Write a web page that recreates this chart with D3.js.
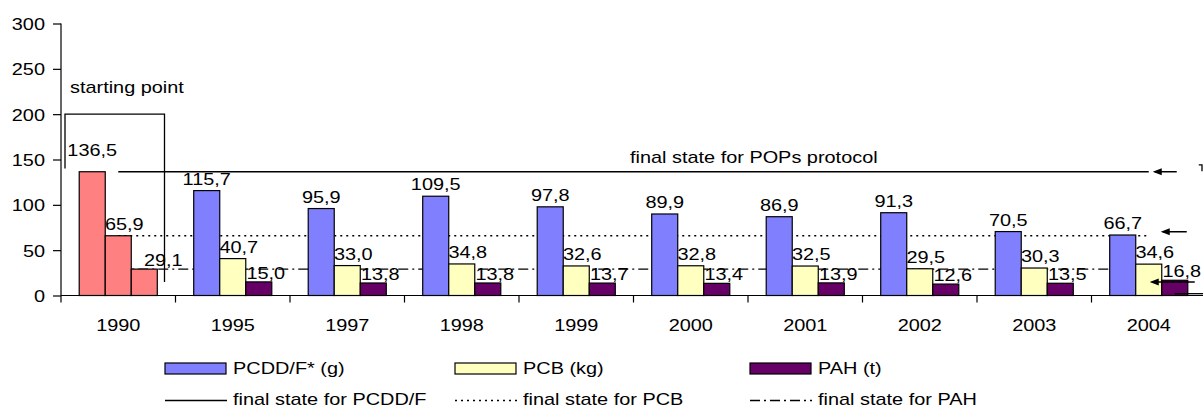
<!DOCTYPE html>
<html>
<head>
<meta charset="utf-8">
<script src="https://cdn.jsdelivr.net/npm/d3@7/dist/d3.min.js"></script>
<style>
  body { margin: 0; background: #fff; }
  svg { display: block; font-family: "Liberation Sans", Arial, sans-serif; font-size: 17px; }
</style>
</head>
<body>
<svg id="chart" width="1203" height="409"></svg>
<script>
// data
const years = ["1990", "1995", "1997", "1998", "1999", "2000", "2001", "2002", "2003", "2004"];
const seriesNames = ["PCDD/F* (g)", "PCB (kg)", "PAH (t)"];
const pcdd = [136.5, 115.7, 95.9, 109.5, 97.8, 89.9, 86.9, 91.3, 70.5, 66.7];
const pcb = [65.9, 40.7, 33.0, 34.8, 32.6, 32.8, 32.5, 29.5, 30.3, 34.6];
const pah = [29.1, 15.0, 13.8, 13.8, 13.7, 13.4, 13.9, 12.6, 13.5, 16.8];
const finalNames = ["final state for PCDD/F", "final state for PCB", "final state for PAH"];
const finalValues = [136.5, 65.9, 29.1];
const yTicks = [0, 50, 100, 150, 200, 250, 300];

// config
const colors = ["#8080ff", "#ffffc0", "#660066"];
const startColor = "#ff8080";
const dashes = [null, "2,4", "10,4,2,4"];
const SX = 1.17; // the source text is stretched sideways
const plotLeft = 61, plotBottom = 295.5, plotTop = 23.5;

const svg = d3.select("#chart");

const x = d3.scaleBand().domain(years).range([plotLeft, plotLeft + 114.5 * years.length]);
const x1 = d3.scaleBand().domain(d3.range(3)).range([0, x.bandwidth()]).paddingOuter(0.7);
const y = d3.scaleLinear().domain([0, 300]).range([plotBottom, plotTop]);

const fmt = v => d3.format(".1f")(v).replace(".", ",");
const tr = (px, py) => `translate(${px},${py}) scale(${SX},1)`;

const rows = years.map((yr, i) => ({ year: yr, values: [pcdd[i], pcb[i], pah[i]] }));

// final state lines (behind bars)
const line = d3.line().x(d => x(d) + x.bandwidth() / 2);
finalValues.forEach((v, k) => {
  svg.append("path")
    .datum(years)
    .attr("fill", "none")
    .attr("stroke", "#000")
    .attr("stroke-width", 1.3)
    .attr("stroke-dasharray", dashes[k])
    .attr("d", line.y(() => y(v)));
});

// bars
const groups = svg.selectAll("g.year")
  .data(rows)
  .join("g")
  .attr("class", "year")
  .attr("transform", d => `translate(${x(d.year)},0)`);

groups.selectAll("rect")
  .data(d => d.values.map((v, k) => ({ v, k, first: d.year === years[0] })))
  .join("rect")
  .attr("x", d => x1(d.k))
  .attr("width", x1.bandwidth())
  .attr("y", d => y(d.v))
  .attr("height", d => y(0) - y(d.v))
  .attr("fill", d => d.first ? startColor : colors[d.k])
  .attr("stroke", "#000")
  .attr("stroke-width", 1.2);

// value labels
const labelDx = [0, 6, 7];
const labelDy = [6, 6, 3];
groups.selectAll("text")
  .data(d => d.values.map((v, k) => ({ v, k, first: d.year === years[0] })))
  .join("text")
  .attr("text-anchor", "middle")
  .attr("transform", d => {
    let dx = labelDx[d.k], dy = labelDy[d.k];
    if (d.first && d.k === 0) dy = 16;
    if (d.first && d.k === 2) dx = 19;
    return tr(x1(d.k) + x1.bandwidth() / 2 + dx, y(d.v) - dy);
  })
  .text(d => fmt(d.v));

// y axis
const gy = svg.append("g")
  .attr("transform", `translate(${plotLeft},0)`)
  .call(d3.axisLeft(y).tickValues(yTicks).tickSize(8));
gy.attr("font-size", null).attr("font-family", null);
gy.select(".domain").attr("d", `M0,${plotTop}V${plotBottom}`).attr("stroke-width", 1.2);
gy.selectAll(".tick line").attr("stroke-width", 1.2);
gy.selectAll(".tick text")
  .attr("fill", "#000")
  .attr("x", null).attr("dy", null)
  .attr("transform", tr(-16, 6));

// x axis
const gx = svg.append("g").attr("transform", `translate(0,${plotBottom})`);
gx.append("path").attr("d", `M${plotLeft},0H1203`).attr("stroke", "#000").attr("stroke-width", 1.2);
gx.selectAll("line.tk")
  .data(years)
  .join("line")
  .attr("class", "tk")
  .attr("x1", d => x(d)).attr("x2", d => x(d))
  .attr("y1", 0).attr("y2", 7)
  .attr("stroke", "#000").attr("stroke-width", 1.2);
gx.selectAll("text")
  .data(years)
  .join("text")
  .attr("text-anchor", "middle")
  .attr("transform", d => tr(x(d) + x.bandwidth() / 2, 35))
  .text(d => d);

// starting point bracket
const x0 = x(years[0]);
svg.append("path")
  .attr("d", `M${x0 + 4},${y(140)}V${y(200)}H${x0 + x.bandwidth() - 11}V${y(15)}`)
  .attr("fill", "none").attr("stroke", "#000").attr("stroke-width", 1.3);
svg.append("text").attr("transform", tr(x0 + 9, 93)).text("starting point");
svg.append("text").attr("transform", tr(630, 163)).text("final state for POPs protocol");

// arrows on the right
const xEnd = x(years[years.length - 1]) + x.bandwidth() / 2;
const arrows = [
  { x1: xEnd + 28, x2: xEnd + 6, v: finalValues[0] },
  { x1: xEnd + 38, x2: xEnd + 14, v: finalValues[1], off: -4 },
  { x1: xEnd + 46, x2: xEnd + 3, v: 15 }
];
arrows.forEach(a => {
  const ay = y(a.v) + (a.off || 0);
  svg.append("line")
    .attr("x1", a.x1).attr("x2", a.x2).attr("y1", ay).attr("y2", ay)
    .attr("stroke", "#000").attr("stroke-width", 1.5);
  svg.append("path")
    .attr("d", `M${a.x2 - 2},${ay}l9,-3.5v7z`)
    .attr("fill", "#000");
});
svg.append("line")
  .attr("x1", xEnd + 26).attr("x2", 1203).attr("y1", y(2)).attr("y2", y(2))
  .attr("stroke", "#000").attr("stroke-width", 1.3);
svg.append("path")
  .attr("d", `M${xEnd + 50},${y(144)}H1202V${y(137)}`)
  .attr("fill", "none").attr("stroke", "#000").attr("stroke-width", 1.3);

// legend
const legX = [165, 455, 750];
const leg = svg.append("g");
seriesNames.forEach((name, k) => {
  leg.append("rect")
    .attr("x", legX[k]).attr("y", 363).attr("width", 61).attr("height", 11)
    .attr("fill", colors[k]).attr("stroke", "#000").attr("stroke-width", 1.2);
  leg.append("text").attr("transform", tr(legX[k] + 68, 374)).text(name);
});
finalNames.forEach((name, k) => {
  leg.append("line")
    .attr("x1", legX[k]).attr("x2", legX[k] + 62)
    .attr("y1", 400.5).attr("y2", 400.5)
    .attr("stroke", "#000").attr("stroke-width", 1.3)
    .attr("stroke-dasharray", dashes[k]);
  leg.append("text").attr("transform", tr(legX[k] + 68, 405)).text(name);
});
</script>
</body>
</html>
